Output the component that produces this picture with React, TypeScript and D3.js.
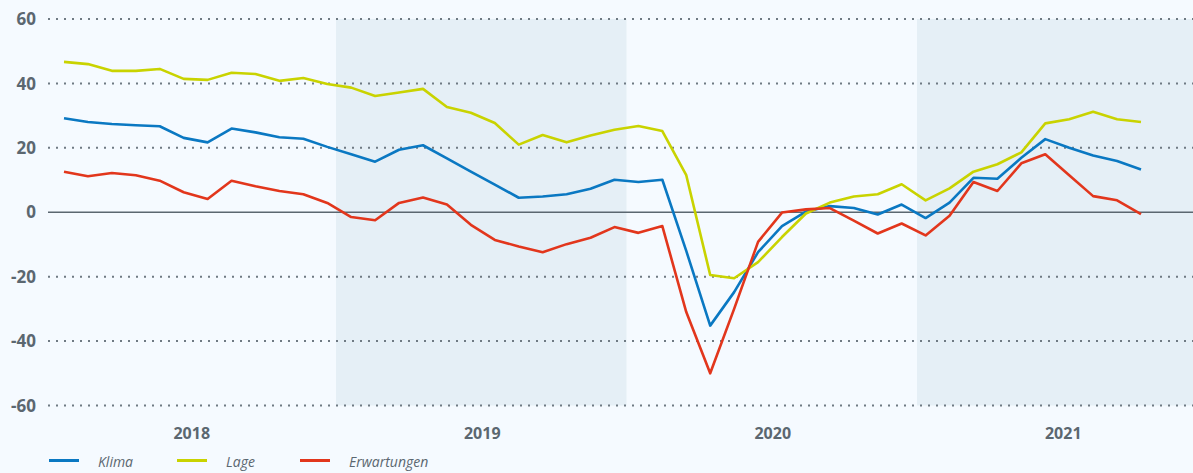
import React, { useEffect } from 'react';
import * as d3 from 'd3';

// Monatswerte Jan 2018 - Okt 2021
const klima = [
  29.2, 28.0, 27.4, 27.0, 26.7, 23.1, 21.7, 26.0, 24.8, 23.3, 22.8, 20.3,
  18.0, 15.7, 19.4, 20.8, 16.7, 12.6, 8.6, 4.5, 4.9, 5.6, 7.3, 10.1,
  9.4, 10.1, -12.0, -35.2, -24.8, -12.4, -4.3, 0.2, 1.9, 1.3, -0.7, 2.4,
  -1.8, 3.0, 10.7, 10.4, 16.9, 22.7, 20.0, 17.6, 15.9, 13.3,
];
const lage = [
  46.7, 46.0, 43.9, 43.9, 44.5, 41.4, 41.1, 43.3, 42.9, 40.8, 41.7, 39.8,
  38.7, 36.1, 37.2, 38.3, 32.7, 30.9, 27.7, 21.0, 24.0, 21.7, 23.8, 25.6,
  26.8, 25.2, 11.5, -19.5, -20.5, -15.5, -7.7, -0.4, 3.0, 4.9, 5.6, 8.7,
  3.7, 7.4, 12.6, 14.9, 18.6, 27.6, 28.9, 31.2, 28.9, 28.0,
];
const erwartungen = [
  12.6, 11.2, 12.2, 11.5, 9.8, 6.2, 4.1, 9.8, 8.1, 6.6, 5.6, 2.9,
  -1.5, -2.5, 2.9, 4.6, 2.4, -3.9, -8.6, -10.6, -12.4, -9.9, -7.9, -4.6,
  -6.4, -4.3, -31.0, -50.0, -30.0, -9.2, -0.1, 0.9, 1.3, -2.6, -6.6, -3.5,
  -7.2, -1.1, 9.4, 6.6, 15.2, 18.0, 11.5, 5.0, 3.7, -0.6,
];
const years = [2018, 2019, 2020, 2021];
const shadedYears = [2019, 2021];
const yTicks = [60, 40, 20, 0, -20, -40, -60];

const series = [
  { name: 'Klima', values: klima, color: '#0a78c2' },
  { name: 'Lage', values: lage, color: '#c9d300' },
  { name: 'Erwartungen', values: erwartungen, color: '#e2361c' },
];

const W = 1193;
const H = 473;
const textColor = '#5b6770';
const font = '"Open Sans", "Noto Sans", sans-serif';

export default function App() {
  useEffect(() => {
    document.body.style.margin = '0';
    document.body.style.background = '#f5faff';
  }, []);

  const x = d3.scaleLinear().domain([0, klima.length - 1]).range([64, 1141]);
  const xYear = d3.scaleLinear().domain([2018, 2022]).range([45.5, 1207.5]);
  const y = d3.scaleLinear().domain([-60, 60]).range([405.5, 19]);

  const line = d3
    .line<number>()
    .x((_, i) => x(i))
    .y((d) => y(d));

  const legendX = [49, 177, 300];

  return (
    <svg width={W} height={H} style={{ display: 'block', background: '#f5faff' }}>
      {shadedYears.map((yr) => (
        <rect
          key={yr}
          x={xYear(yr)}
          y={y(60)}
          width={Math.min(xYear(yr + 1), W) - xYear(yr)}
          height={y(-60) - y(60)}
          fill="#e5eff6"
        />
      ))}

      {yTicks.map((t) => (
        <g key={t}>
          {t !== 0 && (
            <line
              x1={48}
              x2={W}
              y1={y(t)}
              y2={y(t)}
              stroke="#6f7a83"
              strokeWidth={2}
              strokeDasharray="2 6"
            />
          )}
          <text
            x={36}
            y={y(t)}
            dy="0.36em"
            textAnchor="end"
            fill={textColor}
            fontFamily={font}
            fontWeight={700}
            fontSize={17}
          >
            {t}
          </text>
        </g>
      ))}
      <line x1={48} x2={W} y1={y(0)} y2={y(0)} stroke="#5b6770" strokeWidth={1.5} />

      {series.map((s) => (
        <path
          key={s.name}
          d={line(s.values) ?? ''}
          fill="none"
          stroke={s.color}
          strokeWidth={2.6}
          strokeLinejoin="round"
        />
      ))}

      {years.map((yr) => (
        <text
          key={yr}
          x={xYear(yr + 0.5) + 1}
          y={439}
          textAnchor="middle"
          fill={textColor}
          fontFamily={font}
          fontWeight={700}
          fontSize={16}
        >
          {yr}
        </text>
      ))}

      {series.map((s, i) => (
        <g key={s.name} transform={`translate(${legendX[i]},0)`}>
          <line x1={0} x2={30} y1={460.5} y2={460.5} stroke={s.color} strokeWidth={3} />
          <text
            x={49}
            y={467}
            fill={textColor}
            fontFamily={font}
            fontStyle="italic"
            fontSize={14}
          >
            {s.name}
          </text>
        </g>
      ))}
    </svg>
  );
}
